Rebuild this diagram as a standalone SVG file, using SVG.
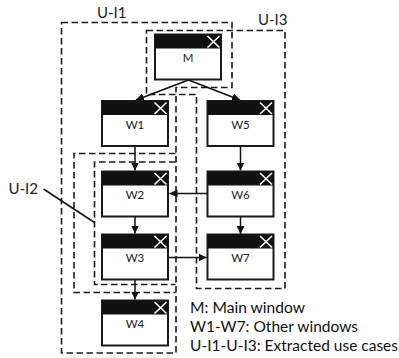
<svg xmlns="http://www.w3.org/2000/svg" xmlns:xlink="http://www.w3.org/1999/xlink" width="399" height="358" viewBox="0 0 399 358">
<style>
.dash{fill:none;stroke:#1a1a1a;stroke-width:1.6;stroke-dasharray:6.5,3.5}
.body{fill:#fff;stroke:#1a1a1a;stroke-width:2}
.head{fill:#111}
.x{stroke:#fff;stroke-width:1.6}
.wl{font-family:Lato,"Open Sans",sans-serif;font-size:11.5px;fill:#222;text-anchor:middle}
.ul{font-family:Lato,"Open Sans",sans-serif;font-size:15px;fill:#222}
.lg{font-family:Lato,"Open Sans",sans-serif;font-size:14.8px;fill:#111}
.arr{fill:none;stroke:#111;stroke-width:1.5;marker-end:url(#ah)}
</style>
<defs>
<marker id="ah" markerUnits="userSpaceOnUse" markerWidth="8" markerHeight="8" refX="8" refY="4" orient="auto">
<path d="M0,0 L8,4 L0,8 z" fill="#111"/>
</marker>
<g id="win">
<rect class="body" x="0" y="0" width="66" height="45"/>
<rect class="head" x="0" y="0" width="66" height="14"/>
<path class="x" d="M52.5,1.5 L64.5,13 M64.5,1.5 L52.5,13"/>
</g>
</defs>

<g id="use-cases">
<path id="U-I1" class="dash" d="M61.5,22.5 H232 V87.5 H176 V353 H61.5 Z"/>
<path id="U-I3" class="dash" d="M146.5,30.5 H285 V288.5 H196.5 V94.5 H146.5 Z"/>
<path id="U-I1-inner" class="dash" d="M175.5,153.5 H74 V292.5 H175.5"/>
<path id="U-I2" class="dash" d="M175.5,162 H94.5 V284.5 H175.5"/>
</g>

<g id="labels">
<text class="ul" x="97" y="17.5">U-I1</text>
<text class="ul" x="258" y="24.5">U-I3</text>
<text class="ul" x="8.5" y="194">U-I2</text>
<line x1="43.5" y1="189" x2="94.5" y2="222.5" stroke="#111" stroke-width="1.5"/>
</g>

<g id="connectors">
<path class="arr" d="M188.5,80 L136,100"/>
<path class="arr" d="M188.5,80 L240,100"/>
<path class="arr" d="M135,146 V170.5"/>
<path class="arr" d="M135,216.5 V233.5"/>
<path class="arr" d="M135,279.5 V299.5"/>
<path class="arr" d="M240.5,146 V170.5"/>
<path class="arr" d="M240.5,216.5 V234"/>
<path class="arr" d="M207.5,193.5 H169.5"/>
<path class="arr" d="M168.5,257.5 H206.5"/>
</g>

<g id="M"><use xlink:href="#win" x="155" y="34.5"/><text class="wl" x="188" y="61.5">M</text></g>
<g id="W1"><use xlink:href="#win" x="102" y="101"/><text class="wl" x="135" y="128.5">W1</text></g>
<g id="W2"><use xlink:href="#win" x="102" y="171.5"/><text class="wl" x="135" y="199">W2</text></g>
<g id="W3"><use xlink:href="#win" x="102" y="234.5"/><text class="wl" x="135" y="262">W3</text></g>
<g id="W4"><use xlink:href="#win" x="102" y="300.5"/><text class="wl" x="135" y="328">W4</text></g>
<g id="W5"><use xlink:href="#win" x="207.5" y="101"/><text class="wl" x="240.5" y="128.5">W5</text></g>
<g id="W6"><use xlink:href="#win" x="207.5" y="171.5"/><text class="wl" x="240.5" y="199">W6</text></g>
<g id="W7"><use xlink:href="#win" x="207.5" y="234.5"/><text class="wl" x="240.5" y="262">W7</text></g>

<g id="legend">
<text class="lg" x="190" y="312.5" textLength="115" lengthAdjust="spacingAndGlyphs">M: Main window</text>
<text class="lg" x="190" y="331.5" textLength="168" lengthAdjust="spacingAndGlyphs">W1-W7: Other windows</text>
<text class="lg" x="190" y="351" textLength="208" lengthAdjust="spacingAndGlyphs">U-I1-U-I3: Extracted use cases</text>
</g>
</svg>
